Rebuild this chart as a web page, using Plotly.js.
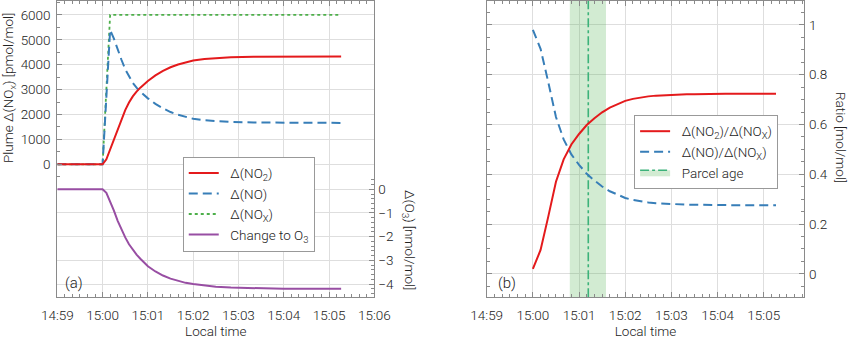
<!DOCTYPE html>
<html>
<head>
<meta charset="utf-8">
<script src="https://cdn.plot.ly/plotly-3.0.1.min.js"></script>
<style>html,body{margin:0;padding:0;background:#fff;}#chart{width:850px;height:339px;}</style>
</head>
<body>
<div id="chart"></div>
<script>
// ---- data (seconds relative to 15:00:00 local time) ----
const tLeft = [-60, 0, 5, 10, 15, 20, 25, 30, 35, 40, 45, 50, 60, 70, 80, 90, 100, 110, 120, 135, 150, 170, 200, 240, 280, 316];
const dNO2  = [0, 0, 200, 600, 950, 1400, 1800, 2180, 2480, 2730, 2920, 3080, 3350, 3570, 3750, 3900, 4010, 4100, 4170, 4230, 4270, 4300, 4320, 4330, 4335, 4335];
const dNO   = [0, 0, 2700, 5400, 5050, 4600, 4200, 3820, 3520, 3270, 3080, 2920, 2650, 2430, 2250, 2100, 1990, 1900, 1830, 1770, 1730, 1700, 1680, 1670, 1665, 1665];
const dO3   = [0, 0, -0.15, -0.5, -0.9, -1.33, -1.7, -2.03, -2.32, -2.55, -2.76, -2.93, -3.25, -3.47, -3.64, -3.77, -3.87, -3.95, -4.0, -4.07, -4.11, -4.15, -4.18, -4.2, -4.2, -4.2];
const tNOx  = [-60, 0, 10, 316];
const dNOx  = [0, 0, 6000, 6000];

const tRight = [0, 10, 20, 30, 40, 50, 60, 70, 80, 90, 100, 110, 120, 130, 140, 150, 160, 170, 180, 190, 200, 210, 220, 230, 240, 250, 260, 270, 280, 290, 300, 310, 316];
const ratioNO2 = [0.02, 0.096, 0.23, 0.37, 0.46, 0.52, 0.562, 0.598, 0.625, 0.649, 0.668, 0.683, 0.695, 0.703, 0.709, 0.713, 0.716, 0.718, 0.72, 0.721, 0.722, 0.722, 0.723, 0.723, 0.723, 0.724, 0.724, 0.724, 0.724, 0.724, 0.724, 0.724, 0.724];
const ratioNO  = [0.98, 0.904, 0.77, 0.63, 0.54, 0.48, 0.438, 0.402, 0.375, 0.351, 0.332, 0.317, 0.305, 0.297, 0.291, 0.287, 0.284, 0.282, 0.28, 0.279, 0.278, 0.278, 0.277, 0.277, 0.277, 0.276, 0.276, 0.276, 0.276, 0.276, 0.276, 0.276, 0.276];

const parcelAge = 72;      // s after 15:00
const parcelAgeLow = 48;
const parcelAgeHigh = 95;

const leftTicks = [0, 1000, 2000, 3000, 4000, 5000, 6000];
const o3Ticks = [0, -1, -2, -3, -4];
const ratioTicks = [0, 0.2, 0.4, 0.6, 0.8, 1];
const ratioTickText = ['0', '0.2', '0.4', '0.6', '0.8', '1'];

// ---- helpers ----
function pad(n){ return (n < 10 ? '0' : '') + n; }
function toTime(s){
  const tot = 15*3600 + s;
  const h = Math.floor(tot/3600);
  const m = Math.floor((tot - h*3600)/60);
  const sec = tot - h*3600 - m*60;
  const si = Math.floor(sec);
  const ms = Math.round((sec - si)*1000);
  return '2020-06-01 ' + pad(h) + ':' + pad(m) + ':' + pad(si) + (ms ? '.' + String(ms).padStart(3,'0') : '');
}
const T = a => a.map(toTime);
const SP = '\u00a0\u00a0';

const RED = '#e41a1c', BLUE = '#377eb8', GREEN = '#4daf4a', PURPLE = '#984ea3';
const AGE_LINE = '#3cb27a', AGE_FILL = 'rgba(77,175,74,0.25)';
const FONT = {family: 'Roboto, "Noto Sans", sans-serif', size: 13.5, color: '#222', weight: 300};
const FRAME = '#8a8a8a', GRID = '#dedede';

const leftRange = [-5341, 6560];
const o3Range = [-4.56, 7.95];
const ratioRange = [-0.094, 1.096];

const minorLeft = [];
for (let v = -500; v <= 6500; v += 1000) minorLeft.push(v);
const minorO3 = [];
for (let i = 2; i >= -23; i--) { const v = i/5; if (Math.abs(v - Math.round(v)) > 1e-9) minorO3.push(v); }

const traces = [
  {x: T(tNOx), y: dNOx, xaxis: 'x', yaxis: 'y', mode: 'lines', name: SP + 'Δ(NO<sub>X</sub>)',
   line: {color: GREEN, width: 1.8, dash: 'dot'}, legend: 'legend', legendrank: 3},
  {x: T(tLeft), y: dNO, xaxis: 'x', yaxis: 'y', mode: 'lines', name: SP + 'Δ(NO)',
   line: {color: BLUE, width: 2, dash: '9px,5px'}, legend: 'legend', legendrank: 2},
  {x: T(tLeft), y: dNO2, xaxis: 'x', yaxis: 'y', mode: 'lines', name: SP + 'Δ(NO<sub>2</sub>)',
   line: {color: RED, width: 2}, legend: 'legend', legendrank: 1},
  {x: T(tLeft), y: dO3, xaxis: 'x', yaxis: 'y2', mode: 'lines', name: SP + 'Change to O<sub>3</sub>',
   line: {color: PURPLE, width: 2}, legend: 'legend', legendrank: 4},

  // parcel age band + line (right panel)
  {x: T([parcelAgeLow, parcelAgeLow]), y: ratioRange, xaxis: 'x2', yaxis: 'y3', mode: 'lines',
   line: {width: 0, color: AGE_LINE}, showlegend: false, hoverinfo: 'skip'},
  {x: T([parcelAge, parcelAge]), y: ratioRange, xaxis: 'x2', yaxis: 'y3', mode: 'lines', fill: 'tonextx',
   fillcolor: AGE_FILL, line: {color: AGE_LINE, width: 1.6, dash: 'dashdot'}, name: SP + 'Parcel age',
   legend: 'legend2', legendrank: 3},
  {x: T([parcelAgeHigh, parcelAgeHigh]), y: ratioRange, xaxis: 'x2', yaxis: 'y3', mode: 'lines', fill: 'tonextx',
   fillcolor: AGE_FILL, line: {width: 0, color: AGE_LINE}, showlegend: false, hoverinfo: 'skip'},

  {x: T(tRight), y: ratioNO, xaxis: 'x2', yaxis: 'y3', mode: 'lines', name: SP + 'Δ(NO)/Δ(NO<sub>X</sub>)',
   line: {color: BLUE, width: 2, dash: '9px,5px'}, legend: 'legend2', legendrank: 2},
  {x: T(tRight), y: ratioNO2, xaxis: 'x2', yaxis: 'y3', mode: 'lines', name: SP + 'Δ(NO<sub>2</sub>)/Δ(NO<sub>X</sub>)',
   line: {color: RED, width: 2}, legend: 'legend2', legendrank: 1}
];

const xCommon = {
  type: 'date', tickformat: '%H:%M', dtick: 60000, ticks: 'inside', ticklen: 5, tickcolor: FRAME,
  minor: {dtick: 10000, ticks: 'inside', ticklen: 3, tickcolor: FRAME, showgrid: false},
  showline: true, linecolor: FRAME, linewidth: 1, mirror: 'ticks',
  showgrid: true, gridcolor: GRID, zeroline: false, tickfont: FONT, automargin: false,
  ticklabelstandoff: 5,
  title: {text: 'Local time', font: FONT, standoff: 7}
};

const layout = {
  width: 850, height: 339,
  margin: {l: 0, r: 0, t: 0, b: 0},
  paper_bgcolor: '#fff', plot_bgcolor: '#fff',
  font: FONT,
  showlegend: true,
  xaxis: Object.assign({}, xCommon, {domain: [0.0674, 0.4404], anchor: 'y',
    range: [toTime(-60), toTime(360)]}),
  yaxis: {domain: [0.123, 0.997], anchor: 'x', range: leftRange,
    tickmode: 'array', tickvals: leftTicks, ticks: 'inside', ticklen: 5, tickcolor: FRAME,
    minor: {tickmode: 'array', tickvals: minorLeft, ticks: 'inside', ticklen: 3, tickcolor: FRAME, showgrid: false},
    showline: true, linecolor: FRAME, mirror: true, showgrid: true, gridcolor: GRID, zeroline: false,
    tickfont: FONT, automargin: false, ticklabelstandoff: 3},
  yaxis2: {overlaying: 'y', side: 'right', anchor: 'x', range: o3Range,
    tickmode: 'array', tickvals: o3Ticks, ticks: 'inside', ticklen: 5, tickcolor: FRAME,
    minor: {tickmode: 'array', tickvals: minorO3, ticks: 'inside', ticklen: 3, tickcolor: FRAME, showgrid: false},
    showline: false, showgrid: true, gridcolor: GRID, zeroline: false,
    tickfont: FONT, automargin: false, ticklabelstandoff: 3},
  xaxis2: Object.assign({}, xCommon, {domain: [0.5726, 0.9462], anchor: 'y3',
    range: [toTime(-60), toTime(352.7)]}),
  yaxis3: {domain: [0.123, 0.997], anchor: 'x2', side: 'right', range: ratioRange,
    tickmode: 'array', tickvals: ratioTicks, ticktext: ratioTickText, ticks: 'inside', ticklen: 5, tickcolor: FRAME,
    minor: {dtick: 0.05, tick0: 0, ticks: 'inside', ticklen: 3, tickcolor: FRAME, showgrid: false},
    showline: true, linecolor: FRAME, mirror: 'ticks', showgrid: true, gridcolor: GRID, zeroline: false,
    tickfont: FONT, automargin: false, ticklabelstandoff: 1},
  legend: {x: 0.215, y: 0.538, xanchor: 'left', yanchor: 'top', bgcolor: '#fff',
    bordercolor: '#999', borderwidth: 1, font: FONT, traceorder: 'normal', itemwidth: 30,
    tracegroupgap: 0},
  legend2: {x: 0.746, y: 0.661, xanchor: 'left', yanchor: 'top', bgcolor: '#fff',
    bordercolor: '#999', borderwidth: 1, font: FONT, traceorder: 'normal', itemwidth: 30,
    tracegroupgap: 0},
  annotations: [
    {text: 'Plume Δ(NO<sub>x</sub>) [pmol/mol]', xref: 'paper', yref: 'paper', x: 9/850, y: 1 - 88/339,
     textangle: -90, showarrow: false, font: FONT, xanchor: 'center', yanchor: 'middle'},
    {text: 'Δ(O<sub>3</sub>) [nmol/mol]', xref: 'paper', yref: 'paper', x: 409/850, y: 1 - 240/339,
     textangle: 90, showarrow: false, font: FONT, xanchor: 'center', yanchor: 'middle'},
    {text: 'Ratio [mol/mol]', xref: 'paper', yref: 'paper', x: 841/850, y: 1 - 137/339,
     textangle: 90, showarrow: false, font: FONT, xanchor: 'center', yanchor: 'middle'},
    {text: '(a)', xref: 'paper', yref: 'paper', x: 74/850, y: 1 - 283/339,
     showarrow: false, font: Object.assign({}, FONT, {size: 15}), xanchor: 'center', yanchor: 'middle'},
    {text: '(b)', xref: 'paper', yref: 'paper', x: 507/850, y: 1 - 282.5/339,
     showarrow: false, font: Object.assign({}, FONT, {size: 15}), xanchor: 'center', yanchor: 'middle'}
  ]
};

Plotly.newPlot('chart', traces, layout, {displayModeBar: false, staticPlot: true});
</script>
</body>
</html>
